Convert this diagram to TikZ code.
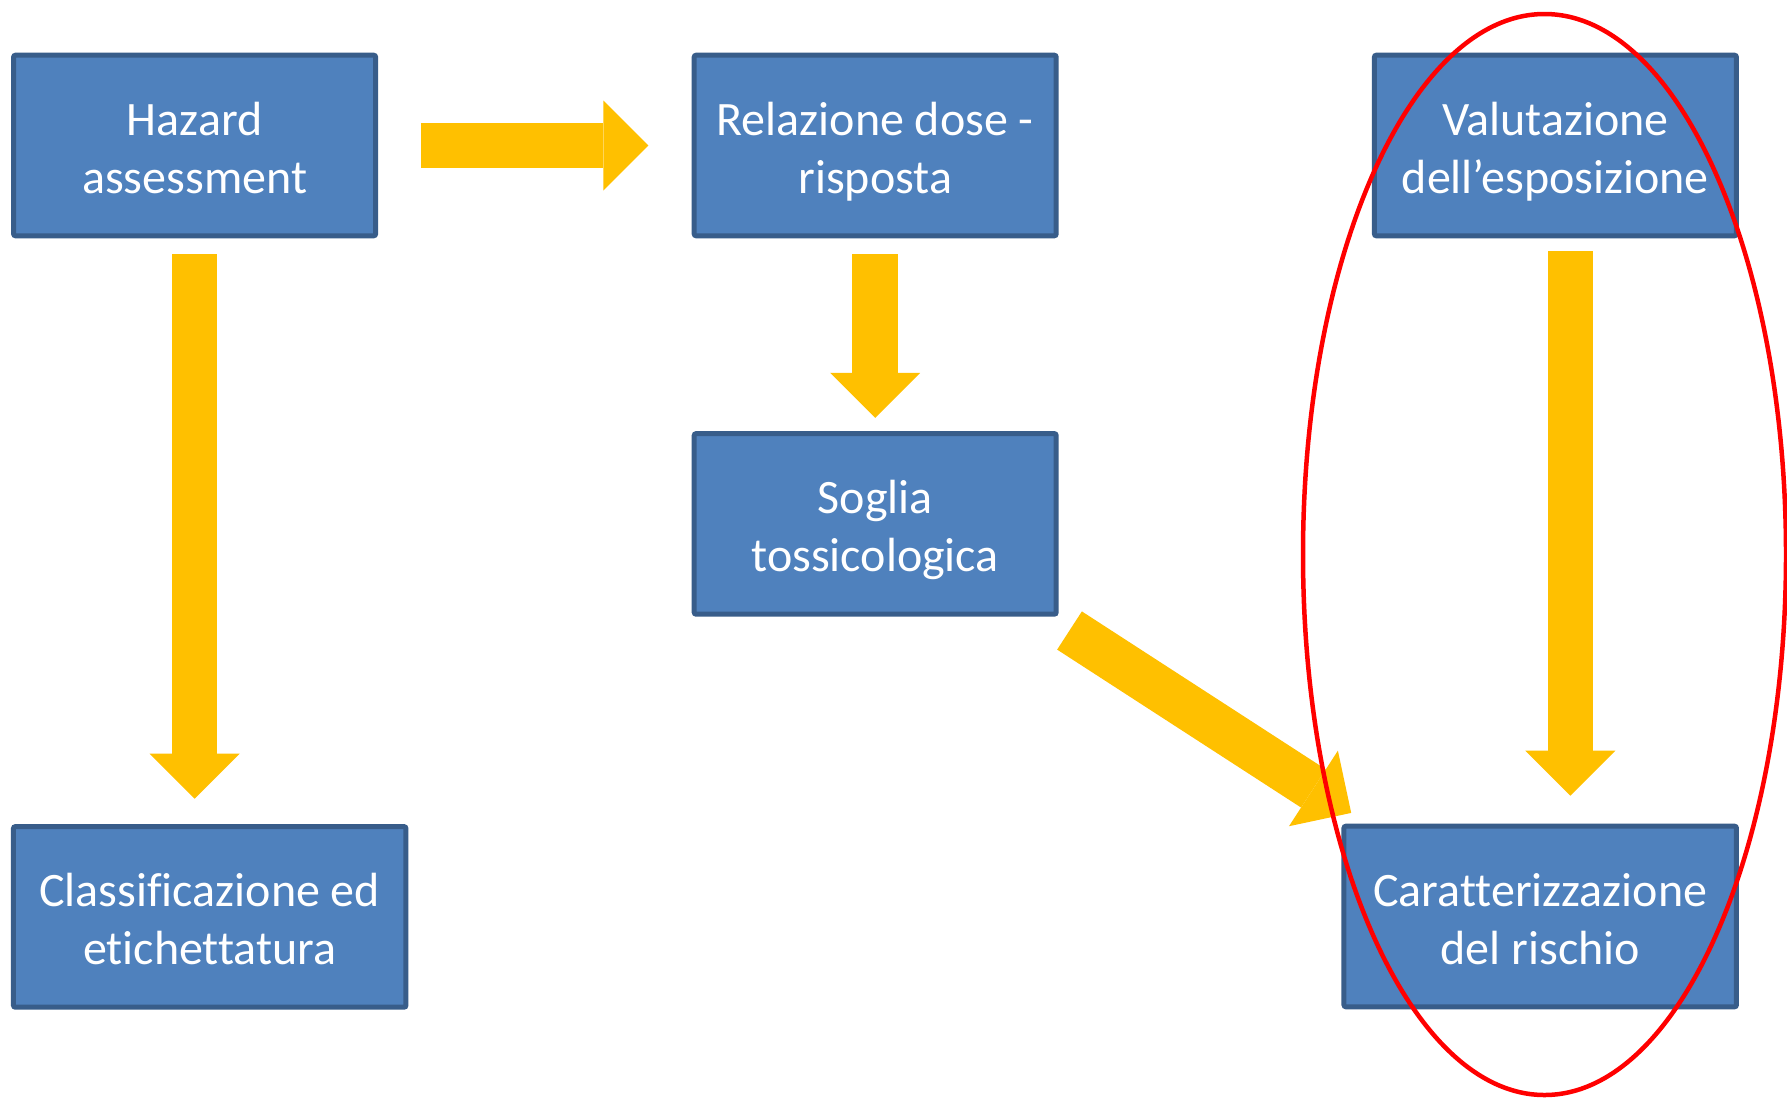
\documentclass[tikz,border=0pt]{standalone}
\usepackage{fontspec}
\setmainfont{Carlito}[Ligatures=NoCommon]
\usetikzlibrary{arrows.meta}
\definecolor{boxblue}{HTML}{4F81BD}
\definecolor{boxedge}{HTML}{385D8A}
\definecolor{arrowyellow}{HTML}{FFC000}
\definecolor{ringred}{HTML}{FF0000}
\newcommand{\topstrut}{\rule{0pt}{48pt}}
\newcommand{\botstrut}{\rule[-10pt]{0pt}{0pt}}
\begin{document}
\begin{tikzpicture}[x=1pt,y=-1pt,
  box/.style={draw=boxedge, fill=boxblue, line width=5pt, rounded corners=2pt,
    text=white, align=center, font=\fontsize{48}{58}\selectfont,
    minimum height=180.6pt, inner sep=0pt, outer sep=0pt},
  narrowbox/.style={box, minimum width=362pt},
  widebox/.style={box, minimum width=392.5pt},
  blockarrow/.style={draw=arrowyellow, line width=45.5pt,
    -{Triangle[length=45pt, width=90pt, line width=0pt, fill=arrowyellow]}},
  ring/.style={draw=ringred, line width=4.5pt}]

\fill[white] (0,0) rectangle (1787,1098);
\useasboundingbox (0,0) rectangle (1787,1098);

\node[narrowbox] (hazard) at (194.6,145.5) {\topstrut Hazard\\ assessment\botstrut};
\node[narrowbox] (relaz)  at (875.2,145.5) {\topstrut Relazione dose -\\ risposta\botstrut};
\node[narrowbox] (valut)  at (1555.4,145.5) {\topstrut Valutazione\\ dell’esposizione\botstrut};
\node[narrowbox] (soglia) at (875.2,523.9) {\topstrut Soglia\\ tossicologica\botstrut};
\node[widebox] (classif)  at (209.7,916.9) {\topstrut Classificazione ed\\ etichettatura\botstrut};
\node[widebox] (caratt)   at (1540.2,916.5) {\topstrut Caratterizzazione\\ del rischio\botstrut};

\coordinate (dstart) at (1069.5,630.5);
\coordinate (dend) at (1351.2,812.9);

\draw[blockarrow, shorten <=45.2pt, shorten >=45.9pt] (hazard.east) -- (relaz.west);
\draw[blockarrow, shorten <=18.2pt, shorten >=27.9pt] (hazard.south) -- (hazard.south |- classif.north);
\draw[blockarrow, shorten <=18.2pt, shorten >=15.8pt] (relaz.south) -- (soglia.north);
\draw[blockarrow, shorten <=15.2pt, shorten >=30.5pt] ([xshift=15pt]valut.south) -- ([xshift=15pt]valut.south |- caratt.north);
\draw[blockarrow] (dstart) -- (dend);

\draw[ring] (1544.5,554.5) ellipse [x radius=241.5, y radius=540.5];
\end{tikzpicture}
\end{document}
